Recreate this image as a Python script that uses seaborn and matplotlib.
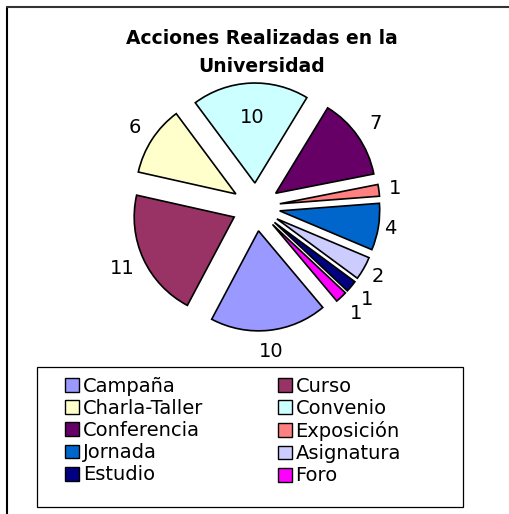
import matplotlib
matplotlib.use("Agg")
import matplotlib.pyplot as plt
import matplotlib.patches as mpatches
from matplotlib.lines import Line2D
import numpy as np
import seaborn as sns

# Chart data
categories = ['Campaña', 'Curso', 'Charla-Taller', 'Convenio', 'Conferencia',
              'Exposición', 'Jornada', 'Asignatura', 'Estudio', 'Foro']
counts = [10, 11, 6, 10, 7, 1, 4, 2, 1, 1]
colors = ['#9999FF', '#993366', '#FFFFCC', '#CCFFFF', '#660066',
          '#FF8080', '#0066CC', '#CCCCFF', '#000080', '#FF00FF']
title = 'Acciones Realizadas en la\nUniversidad'

# where each value label sits (in radii from the exploded slice tip)
label_dist = [1.21, 1.235, 1.21, 0.66, 1.22, 1.16, 1.12, 1.16, 1.2, 1.22]

sns.set_theme(style='white')
plt.rcParams['font.family'] = ['DejaVu Sans']
plt.rcParams['text.color'] = 'black'

W, H = 509, 514
fig = plt.figure(figsize=(W / 100, H / 100), dpi=100)

# pie axes: centre and radius in pixels
cx, cy, R, half = 256, 207, 100, 160
ax = fig.add_axes([(cx - half) / W, (H - cy - half) / H, 2 * half / W, 2 * half / H])
wedges, _ = ax.pie(counts, colors=colors, explode=[0.24] * len(counts),
                   startangle=-50, counterclock=False, radius=1,
                   wedgeprops=dict(edgecolor='black', linewidth=1.2))
lim = half / R
ax.set_xlim(-lim, lim)
ax.set_ylim(-lim, lim)
ax.set_aspect('equal')
ax.axis('off')

# value labels
for w, n, d in zip(wedges, counts, label_dist):
    ang = np.deg2rad((w.theta1 + w.theta2) / 2)
    x0, y0 = w.center
    ax.text(x0 + d * np.cos(ang), y0 + d * np.sin(ang), str(n),
            ha='center', va='center', fontsize=14, color='black')

# title
fig.text(262 / W, 1 - 52 / H, title, ha='center', va='center', color='black',
         fontsize=13.5, fontweight='bold', linespacing=1.6)

# legend, row-wise order like Excel
order = [0, 2, 4, 6, 8, 1, 3, 5, 7, 9]
handles = [mpatches.Patch(facecolor=colors[i], edgecolor='black', linewidth=1) for i in order]
leg = fig.legend(handles, [categories[i] for i in order], ncol=2, loc='upper left',
                 bbox_to_anchor=(65 / W, 1 - 377 / H), frameon=False, fontsize=14,
                 borderpad=0, borderaxespad=0, handlelength=0.72, handleheight=0.72,
                 handletextpad=0.2, columnspacing=3.82, labelspacing=0.16)
for t in leg.get_texts():
    t.set_color('black')
fig.add_artist(mpatches.Rectangle((37 / W, 1 - 507 / H), 426 / W, 140 / H,
                                  transform=fig.transFigure, fill=False,
                                  edgecolor='black', linewidth=0.9))

# chart area border (left and top only visible)
fig.add_artist(Line2D([7 / W, 7 / W], [0, 1 - 7 / H], transform=fig.transFigure,
                      color='black', linewidth=1.5))
fig.add_artist(Line2D([7 / W, 1], [1 - 7 / H, 1 - 7 / H], transform=fig.transFigure,
                      color='#333333', linewidth=1.5))

fig.savefig('out.png', dpi=100, facecolor='white')
